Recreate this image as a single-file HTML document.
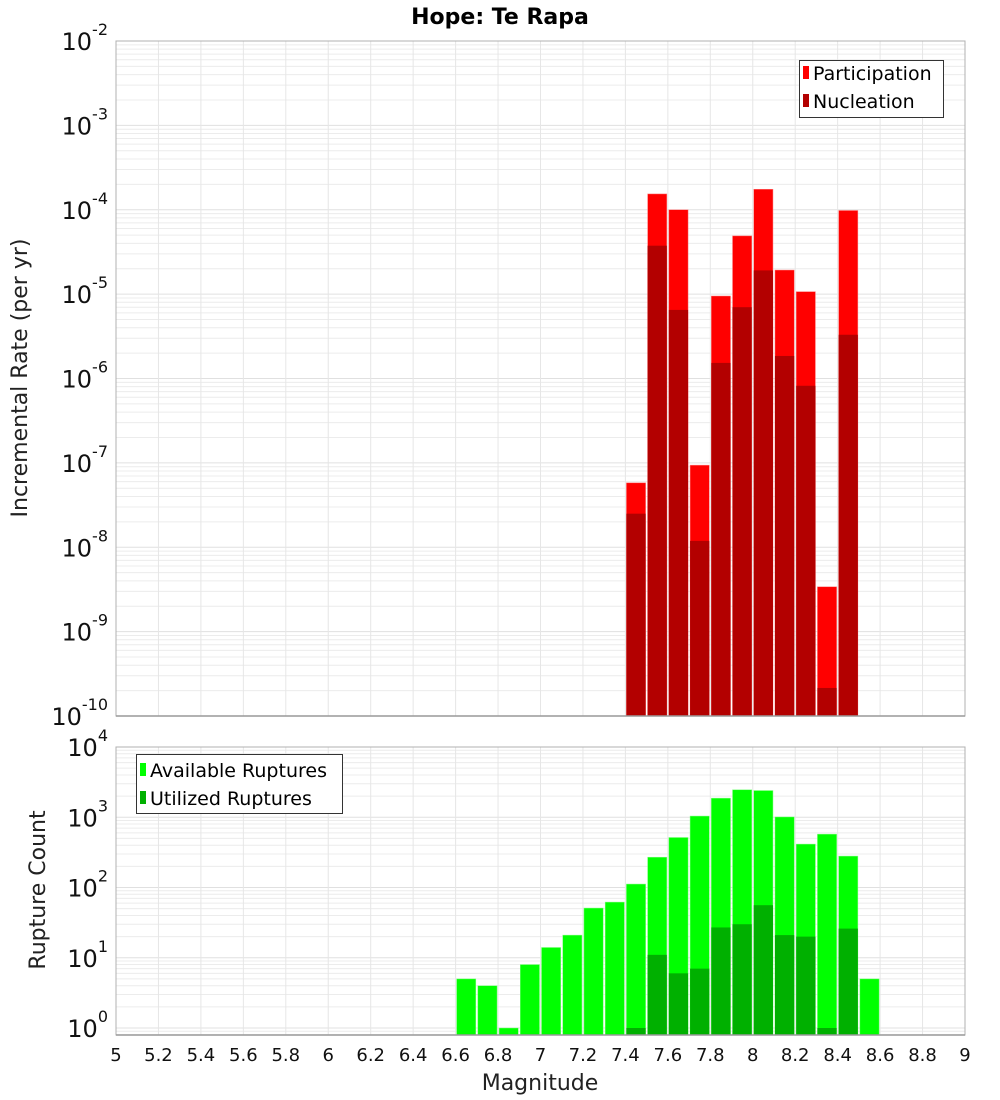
<!DOCTYPE html>
<html><head><meta charset="utf-8"><style>
body{margin:0;background:#fff;}
svg{display:block;font-family:"DejaVu Sans","Liberation Sans",sans-serif;}
</style></head><body>
<svg id="chart" width="1000" height="1100"></svg>
<script>
const mags = [7.4,7.5,7.6,7.7,7.8,7.9,8.0,8.1,8.2,8.3,8.4];
const participation = [5.8e-8,1.54e-4,1.0e-4,9.4e-8,9.5e-6,4.9e-5,1.75e-4,1.93e-5,1.07e-5,3.4e-9,9.8e-5];
const nucleation = [2.5e-8,3.75e-5,6.5e-6,1.19e-8,1.53e-6,7.0e-6,1.91e-5,1.85e-6,8.2e-7,2.15e-10,3.3e-6];
const countMags = [6.6,6.7,6.8,6.9,7.0,7.1,7.2,7.3,7.4,7.5,7.6,7.7,7.8,7.9,8.0,8.1,8.2,8.3,8.4,8.5];
const available = [5,4,1,8,14,21,51,62,112,270,515,1040,1870,2460,2400,1010,415,575,280,5];
const utilized = [0,0,0,0,0,0,0,0,1,11,6,7,27,30,56,21,20,1,26,0];
const xTicks = [5,5.2,5.4,5.6,5.8,6,6.2,6.4,6.6,6.8,7,7.2,7.4,7.6,7.8,8,8.2,8.4,8.6,8.8,9];
const topExps = [-2,-3,-4,-5,-6,-7,-8,-9,-10];
const botExps = [4,3,2,1,0];

const NS="http://www.w3.org/2000/svg";
const svg=document.getElementById('chart');
function el(tag,attrs,parent){const e=document.createElementNS(NS,tag);for(const k in attrs)e.setAttribute(k,attrs[k]);(parent||svg).appendChild(e);return e;}
const X0=116,X1=965;
const x=m=>X0+(m-5)/4*(X1-X0);
const T0=41,T1=716;
const yTop=v=>T0+(-2-Math.log10(v))*(T1-T0)/8;
const B0=747,B1=1035,BD=70.25;
const yBot=v=>B0+(4-Math.log10(v))*BD;

function panel(y0,y1,yf,expMax,expMin,name){
  const g=el('g',{});
  
  
  for(let e=expMin-1;e<expMax;e++){
    for(let k=1;k<10;k++){const v=k*Math.pow(10,e);const yy=yf(v);
      if(yy<y0-0.1||yy>y1+0.1)continue;
      el('line',{x1:X0,x2:X1,y1:yy,y2:yy,stroke:k==1?'#e0e0e0':'#ececec','stroke-width':1},g);}
  }
  xTicks.forEach(t=>el('line',{x1:x(t),x2:x(t),y1:y0,y2:y1,stroke:'#e6e6e6','stroke-width':1},g));
}
panel(T0,T1,yTop,-2,-10,'top');
panel(B0,B1,yBot,4,0,'bottom');

// top bars
mags.forEach((m,i)=>{
  const xa=x(m)+1,w=x(m+0.1)-x(m)-2;
  let r=el('rect',{x:xa,y:yTop(participation[i]),width:w,height:T1-yTop(participation[i]),fill:'#ff0000',stroke:'#ff8080','stroke-width':0.5});
  
  
  r=el('rect',{x:xa,y:yTop(nucleation[i]),width:w,height:T1-yTop(nucleation[i]),fill:'#b30000'});
  
  
});
// bottom bars
countMags.forEach((m,i)=>{
  const xa=x(m)+1,w=x(m+0.1)-x(m)-2;
  let r=el('rect',{x:xa,y:yBot(available[i]),width:w,height:B1-yBot(available[i]),fill:'#00ff00',stroke:'#80ff80','stroke-width':0.5});
  
  
  if(utilized[i]>0){
    r=el('rect',{x:xa,y:yBot(utilized[i]),width:w,height:B1-yBot(utilized[i]),fill:'#00b000'});
    
    
  }
});
// frames
el('rect',{x:X0,y:T0,width:X1-X0,height:T1-T0,fill:'none',stroke:'#b0b0b0','stroke-width':1});
el('rect',{x:X0,y:B0,width:X1-X0,height:B1-B0,fill:'none',stroke:'#b0b0b0','stroke-width':1});
el('line',{x1:X0,x2:X1,y1:T1,y2:T1,stroke:'#999','stroke-width':1.5});
el('line',{x1:X0,x2:X1,y1:B1,y2:B1,stroke:'#999','stroke-width':1.5});

// y tick labels
function yLabel(yy,exp,name){
  const t=el('text',{x:108,y:yy+9,'text-anchor':'end','font-size':24,fill:'#111'});
  
  
  t.textContent='10';
  const s=el('tspan',{dy:-15,'font-size':16},t);s.textContent=String(exp);
}
topExps.forEach(e=>yLabel(yTop(Math.pow(10,e)),e,'top-y-tick'));
botExps.forEach(e=>yLabel(yBot(Math.pow(10,e)),e,'bottom-y-tick'));
// x tick labels
xTicks.forEach(t=>{
  const tx=el('text',{x:x(t),y:1061,'text-anchor':'middle','font-size':18,fill:'#111'});
  
  
  tx.textContent=String(t);
});
</script>
<svg style="position:absolute;left:0;top:0" width="1000" height="1100" font-family="DejaVu Sans, Liberation Sans, sans-serif">
  <text x="500" y="24" text-anchor="middle" font-size="22" font-weight="bold">Hope: Te Rapa</text>
  <text transform="translate(27,378) rotate(-90)" text-anchor="middle" font-size="22" fill="#222">Incremental Rate (per yr)</text>
  <text transform="translate(45,890) rotate(-90)" text-anchor="middle" font-size="22" fill="#222">Rupture Count</text>
  <text x="540" y="1090" text-anchor="middle" font-size="22" fill="#222">Magnitude</text>
  <g>
    <rect x="799.5" y="60.5" width="144" height="57" fill="#fff" stroke="#333"/>
    <rect x="803" y="66" width="6" height="13" fill="#ff0000"/>
    <text x="813" y="80" font-size="19">Participation</text>
    <rect x="803" y="94" width="6" height="13" fill="#b30000"/>
    <text x="813" y="108" font-size="19">Nucleation</text>
  </g>
  <g>
    <rect x="136.5" y="754.5" width="206" height="59" fill="#fff" stroke="#333"/>
    <rect x="140" y="763" width="6" height="13" fill="#00ff00"/>
    <text x="150" y="777" font-size="19">Available Ruptures</text>
    <rect x="140" y="791" width="6" height="13" fill="#00b000"/>
    <text x="150" y="805" font-size="19">Utilized Ruptures</text>
  </g>
</svg>
</body></html>
